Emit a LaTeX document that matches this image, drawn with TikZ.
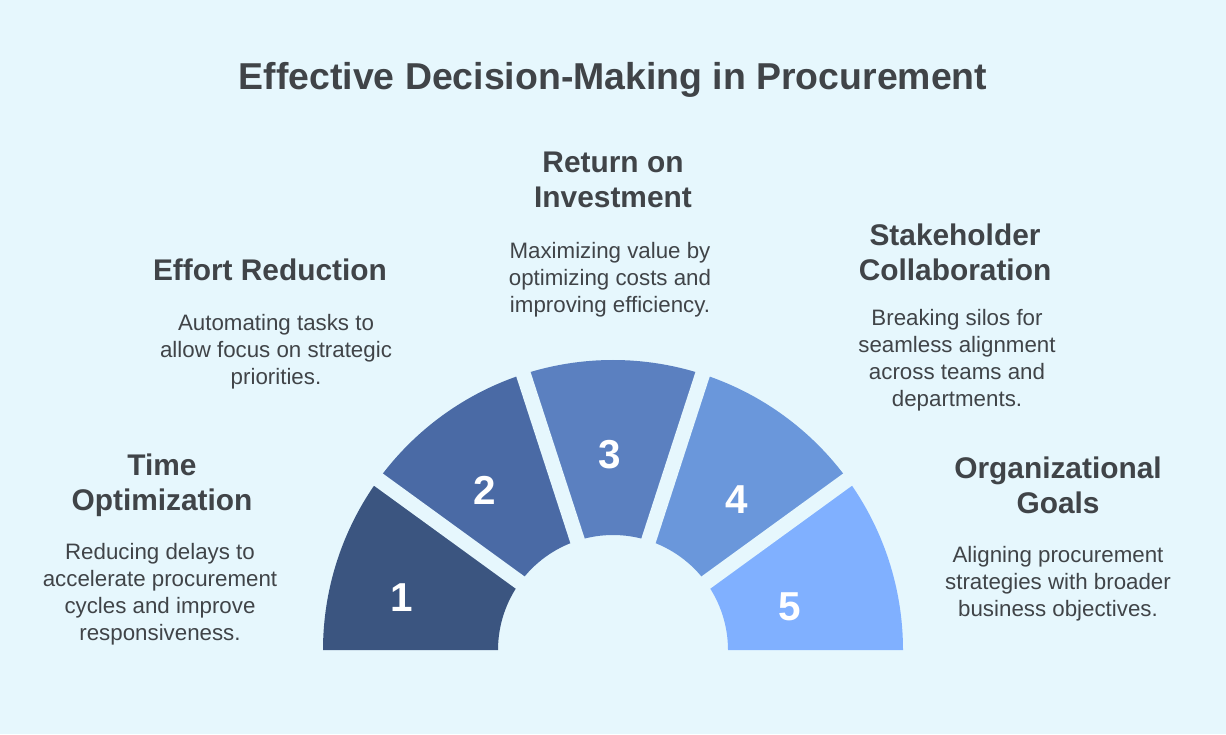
\documentclass[tikz,border=0pt]{standalone}
\usepackage{fontspec}
\setmainfont{Liberation Sans}
\definecolor{bg}{HTML}{E6F7FD}
\definecolor{txt}{HTML}{404448}
\definecolor{segA}{HTML}{3B5580}
\definecolor{segB}{HTML}{4A6AA5}
\definecolor{segC}{HTML}{5B80C0}
\definecolor{segD}{HTML}{6A97DB}
\definecolor{segE}{HTML}{80B0FF}
\begin{document}
\begin{tikzpicture}[x=0.02cm,y=0.02cm,
% common options for headings:
head/.style = {text=txt, font=\fontsize{17}{20}\selectfont\bfseries, align=center},
% common options for body texts:
body/.style = {text=txt, font=\fontsize{12.7}{15.3}\selectfont, align=center},
% numbers on the segments:
num/.style = {text=white, font=\fontsize{23}{25}\selectfont\bfseries}]
\fill[bg] (0,0) rectangle (1226,734);
\node[text=txt, font=\fontsize{21.3}{25}\selectfont\bfseries] (title) at (613,654) {Effective Decision-Making in Procurement};
% segments
\foreach \i/\c in {0/segA,1/segB,2/segC,3/segD,4/segE} {
  \fill[\c] ({613+115*cos(180-36*\i)},{84+115*sin(180-36*\i)})
    arc[start angle=180-36*\i, end angle=144-36*\i, radius=115]
    -- ({613+290*cos(144-36*\i)},{84+290*sin(144-36*\i)})
    arc[start angle=144-36*\i, end angle=180-36*\i, radius=290] -- cycle;
}
% gaps
\foreach \a in {36,72,108,144}
  \draw[bg, line width=0.3cm] ({613+100*cos(\a)},{84+100*sin(\a)}) -- ({613+300*cos(\a)},{84+300*sin(\a)});
\node[num] (n1) at (402,136) {1};
\node[num] (n2) at (485,244) {2};
\node[num] (n3) at (610,279) {3};
\node[num] (n4) at (737,234) {4};
\node[num] (n5) at (790,127) {5};
% texts
\node[head] (h1) at (162,249) {Time\\Optimization};
\node[body] (b1) at (160,140) {Reducing delays to\\accelerate procurement\\cycles and improve\\responsiveness.};
\node[head] (h2) at (270,464) {Effort Reduction};
\node[body] (b2) at (276,382) {Automating tasks to\\allow focus on strategic\\priorities.};
\node[head] (h3) at (613,554) {Return on\\Investment};
\node[body] (b3) at (610,454) {Maximizing value by\\optimizing costs and\\improving efficiency.};
\node[head] (h4) at (955,482) {Stakeholder\\Collaboration};
\node[body] (b4) at (957,374) {Breaking silos for\\seamless alignment\\across teams and\\departments.};
\node[head] (h5) at (1058,249) {Organizational\\Goals};
\node[body] (b5) at (1058,150) {Aligning procurement\\strategies with broader\\business objectives.};
\end{tikzpicture}
\end{document}
